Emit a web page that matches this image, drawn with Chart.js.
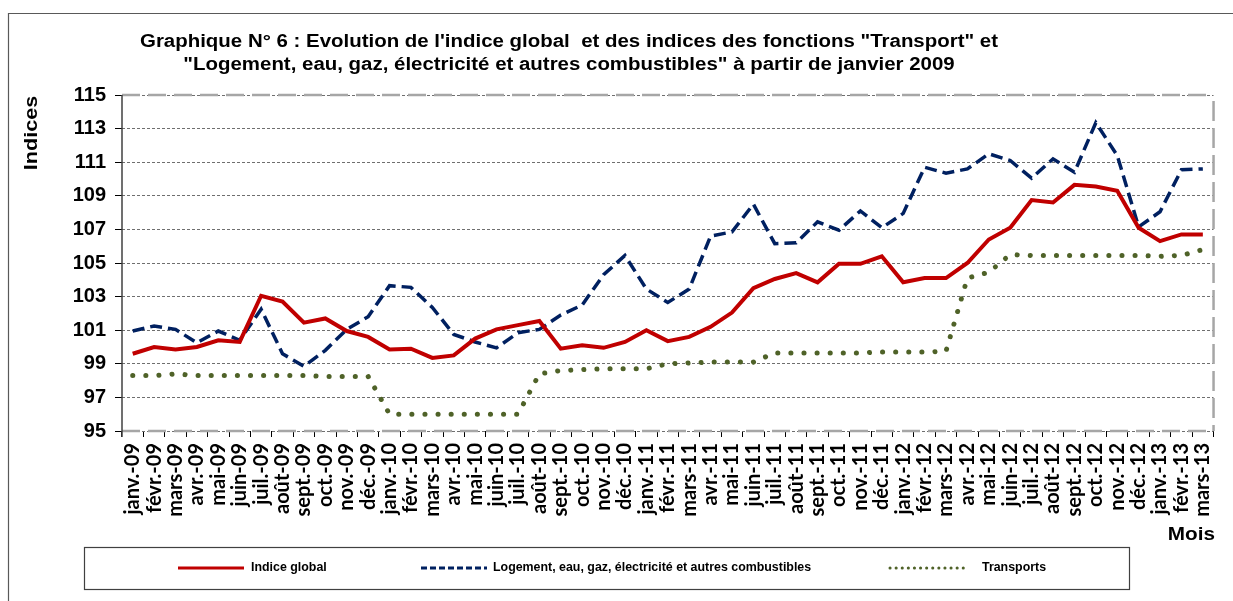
<!DOCTYPE html>
<html><head><meta charset="utf-8">
<script src="https://cdn.jsdelivr.net/npm/chart.js@4"></script>
<style>html,body{margin:0;padding:0;background:#fff;overflow:hidden}#wrap{width:1233px;height:601px;position:relative}canvas{display:block}</style>
</head><body><div id="wrap"><canvas id="c" width="1233" height="601"></canvas></div>
<script>
const months = [
 "janv.-09","févr.-09","mars-09","avr.-09","mai-09","juin-09","juil.-09","août-09","sept.-09","oct.-09","nov.-09","déc.-09",
 "janv.-10","févr.-10","mars-10","avr.-10","mai-10","juin-10","juil.-10","août-10","sept.-10","oct.-10","nov.-10","déc.-10",
 "janv.-11","févr.-11","mars-11","avr.-11","mai-11","juin-11","juil.-11","août-11","sept.-11","oct.-11","nov.-11","déc.-11",
 "janv.-12","févr.-12","mars-12","avr.-12","mai-12","juin-12","juil.-12","août-12","sept.-12","oct.-12","nov.-12","déc.-12",
 "janv.-13","févr.-13","mars-13"];

const indiceGlobal = [
 99.6,100.0,99.85,100.0,100.4,100.3,103.05,102.7,101.45,101.7,100.95,100.6,
 99.85,99.9,99.35,99.5,100.5,101.05,101.3,101.55,99.9,100.1,99.95,100.3,
 101.0,100.35,100.6,101.2,102.05,103.5,104.05,104.4,103.85,104.95,104.95,105.4,
 103.85,104.1,104.1,105.0,106.4,107.1,108.75,108.6,109.65,109.55,109.3,107.1,
 106.3,106.7,106.7];

const logement = [
 100.95,101.25,101.05,100.25,100.95,100.4,102.25,99.6,98.85,99.8,101.05,101.8,
 103.65,103.55,102.35,100.75,100.3,99.95,100.85,101.05,101.9,102.5,104.3,105.45,
 103.45,102.65,103.45,106.6,106.85,108.5,106.15,106.2,107.45,106.95,108.1,107.1,
 107.95,110.7,110.35,110.6,111.5,111.1,110.05,111.2,110.4,113.35,111.4,107.15,
 108.05,110.55,110.6];

const transports = [
 98.3,98.3,98.4,98.3,98.3,98.3,98.3,98.3,98.3,98.25,98.25,98.25,
 96.0,96.0,96.0,96.0,96.0,96.0,96.0,98.4,98.6,98.65,98.7,98.7,
 98.7,99.0,99.05,99.1,99.1,99.1,99.65,99.65,99.65,99.65,99.65,99.7,
 99.7,99.7,99.75,104.1,104.45,105.5,105.45,105.45,105.45,105.45,105.45,105.45,
 105.4,105.45,105.8];

const yTicks = [95,97,99,101,103,105,107,109,111,113,115];
const titleLines = ["Graphique N° 6 : Evolution de l'indice global  et des indices des fonctions \"Transport\" et",
                    "\"Logement, eau, gaz, électricité et autres combustibles\" à partir de janvier 2009"];
const seriesNames = ["Indice global","Logement, eau, gaz, électricité et autres combustibles","Transports"];
const yTitle = "Indices";
const xTitle = "Mois";

const FONT = "'Liberation Sans', Arial, sans-serif";
const RED = '#C00000', BLUE = '#002060', GREEN = '#4F6228';

// draw text stretched horizontally by sx, anchored per align
function wideText(ctx, txt, x, y, sx, align) {
  ctx.save();
  ctx.translate(x, y); ctx.scale(sx, 1);
  ctx.textAlign = align; ctx.fillText(txt, 0, 0);
  ctx.restore();
}

const decor = {
  id: 'decor',
  beforeDraw(chart) {
    const ctx = chart.ctx;
    ctx.save(); ctx.fillStyle = '#fff'; ctx.fillRect(0, 0, chart.width, chart.height); ctx.restore();
  },
  beforeDatasetsDraw(chart) {
    const {ctx, chartArea: a, scales: {y}} = chart;
    const yt = y.getPixelForValue(115), yb = y.getPixelForValue(95);
    ctx.save();
    ctx.strokeStyle = '#A6A6A6'; ctx.lineWidth = 2.5; ctx.setLineDash([18, 8]);
    ctx.beginPath(); ctx.moveTo(a.left, yt); ctx.lineTo(a.right, yt); ctx.stroke();
    ctx.beginPath(); ctx.moveTo(a.left, yb); ctx.lineTo(a.right, yb); ctx.stroke();
    ctx.setLineDash([20, 7]);
    ctx.beginPath(); ctx.moveTo(a.right, yt + 6); ctx.lineTo(a.right, yb); ctx.stroke();
    ctx.setLineDash([]);
    ctx.strokeStyle = '#404040'; ctx.lineWidth = 1.5;
    ctx.beginPath(); ctx.moveTo(a.left, yt); ctx.lineTo(a.left, yb + 6); ctx.stroke();
    ctx.restore();
  },
  afterDraw(chart) {
    const ctx = chart.ctx;
    ctx.save();
    ctx.strokeStyle = '#595959'; ctx.lineWidth = 1.2;
    ctx.beginPath(); ctx.moveTo(8.5, 601); ctx.lineTo(8.5, 13.5); ctx.lineTo(1233, 13.5); ctx.stroke();
    ctx.fillStyle = '#000'; ctx.textBaseline = 'middle';
    ctx.font = 'bold 17.5px ' + FONT;
    const w1 = ctx.measureText(titleLines[0]).width;
    const s1 = 858 / w1;
    wideText(ctx, titleLines[0], 569, 42, s1, 'center');
    wideText(ctx, titleLines[1], 569, 65, s1, 'center');
    ctx.save(); ctx.translate(32, 133); ctx.rotate(-Math.PI / 2);
    ctx.font = 'bold 18px ' + FONT;
    wideText(ctx, yTitle, 0, 0, 1.2, 'center'); ctx.restore();
    ctx.font = 'bold 18px ' + FONT;
    wideText(ctx, xTitle, 1215, 535, 1.15, 'right');
    ctx.strokeStyle = '#404040'; ctx.lineWidth = 1.2;
    ctx.strokeRect(84.5, 547.5, 1045, 42);
    const ly = 568;
    const items = [
      {x0: 178, x1: 244, tx: 251, color: RED, dash: [], w: 3, cap: 'butt'},
      {x0: 421, x1: 487, tx: 493, color: BLUE, dash: [6, 3], w: 3, cap: 'butt'},
      {x0: 890, x1: 968, tx: 982, color: GREEN, dash: [0.1, 6], w: 3, cap: 'round'}
    ];
    items.forEach((it, i) => {
      ctx.strokeStyle = it.color; ctx.lineWidth = it.w; ctx.setLineDash(it.dash); ctx.lineCap = it.cap;
      ctx.beginPath(); ctx.moveTo(it.x0, ly); ctx.lineTo(it.x1, ly); ctx.stroke();
      ctx.setLineDash([]); ctx.lineCap = 'butt';
      ctx.fillStyle = '#000'; ctx.textBaseline = 'middle';
      ctx.font = 'bold 12.4px ' + FONT;
      wideText(ctx, seriesNames[i], it.tx, ly, 1.0, 'left');
    });
    ctx.restore();
  }
};

new Chart(document.getElementById('c'), {
  type: 'line',
  data: {
    labels: months,
    datasets: [
      {label: seriesNames[0], data: indiceGlobal, borderColor: RED, borderWidth: 4, pointRadius: 0, tension: 0, fill: false, borderJoinStyle: 'miter'},
      {label: seriesNames[1], data: logement, borderColor: BLUE, borderWidth: 3.5, borderDash: [12, 6], pointRadius: 0, tension: 0, fill: false},
      {label: seriesNames[2], data: transports, borderColor: GREEN, borderWidth: 5, borderDash: [0.1, 13], borderCapStyle: 'round', pointRadius: 0, tension: 0, fill: false}
    ]
  },
  options: {
    responsive: false, animation: false, devicePixelRatio: 1,
    layout: {padding: {left: 0, right: 16, top: 95, bottom: 0}},
    plugins: {legend: {display: false}, title: {display: false}, tooltip: {enabled: false}},
    scales: {
      x: {
        type: 'category', offset: true,
        grid: {offset: true, drawOnChartArea: false, drawTicks: true, tickLength: 6, tickColor: '#000', tickWidth: 1},
        border: {display: false},
        ticks: {autoSkip: false, minRotation: 90, maxRotation: 90, padding: 6, color: '#000',
                font: {family: "Lato, 'Open Sans', sans-serif", weight: 'bold', size: 20}},
        afterFit(s) { s.height = 170; }
      },
      y: {
        min: 95, max: 115,
        afterBuildTicks(s) { s.ticks = yTicks.map(v => ({value: v})); },
        grid: {color: '#6F6F6F', lineWidth: 1, drawTicks: true, tickLength: 7, tickColor: '#000', tickWidth: 1},
        border: {display: false, dash: [3, 2]},
        ticks: {padding: 9, color: '#000', font: {family: FONT, weight: 'bold', size: 20}},
        afterFit(s) { s.width = 122; }
      }
    }
  },
  plugins: [decor]
});
</script>
</body></html>
